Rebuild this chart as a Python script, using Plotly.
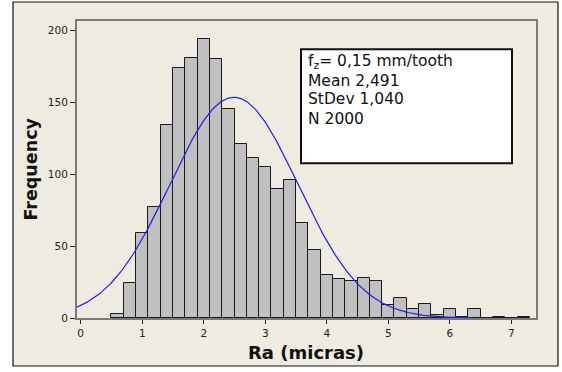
import numpy as np
import plotly.graph_objects as go

# ---- data ----
bin_centers = [0.6, 0.8, 1.0, 1.2, 1.4, 1.6, 1.8, 2.0, 2.2, 2.4, 2.6, 2.8, 3.0,
               3.2, 3.4, 3.6, 3.8, 4.0, 4.2, 4.4, 4.6, 4.8, 5.0, 5.2, 5.4, 5.6,
               5.8, 6.0, 6.2, 6.4, 6.6, 6.8, 7.0, 7.2]
frequency = [3, 24, 59, 77, 134, 174, 181, 194, 180, 145, 121, 111, 105,
             90, 96, 66, 47, 30, 27, 26, 28, 26, 9, 14, 6, 10,
             2, 6, 1, 6, 0, 1, 0, 1]
bin_width = 0.2
fit_mean = 2.491
fit_stdev = 1.040
fit_n = 2000
fit_x_start, fit_x_end = -0.06, 6.37
x_ticks = [0, 1, 2, 3, 4, 5, 6, 7]
y_ticks = [0, 50, 100, 150, 200]
info_lines = ["f<sub>z</sub>= 0,15 mm/tooth", "Mean 2,491", "StDev 1,040", "N 2000"]
x_title = "Ra (micras)"
y_title = "Frequency"

# fitted normal curve (scaled to counts) from the stated parameters
cx = np.linspace(fit_x_start, fit_x_end, 300)
cy = fit_n * bin_width / (fit_stdev * np.sqrt(2 * np.pi)) * np.exp(-0.5 * ((cx - fit_mean) / fit_stdev) ** 2)

fig = go.Figure()
fig.add_trace(go.Bar(
    x=bin_centers, y=frequency, width=bin_width,
    marker=dict(color="#C0C0C0", line=dict(color="#1a1a1a", width=1)),
    showlegend=False,
))
fig.add_trace(go.Scatter(
    x=cx, y=cy, mode="lines",
    line=dict(color="#1f1fe6", width=1.2),
    showlegend=False,
))

W, H = 562, 372
ml, mr, mt, mb = 77, 26, 21, 54
pw, ph = W - ml - mr, H - mt - mb

def px(x):
    return (x - ml) / pw

def py(y):
    return (H - mb - y) / ph

tickfont = dict(family="DejaVu Sans", size=10.5, color="#222222")
fig.update_layout(
    width=W, height=H,
    margin=dict(l=ml, r=mr, t=mt, b=mb),
    paper_bgcolor="white",
    plot_bgcolor="white",
    bargap=0,
    xaxis=dict(range=[-0.06, 7.40], tickmode="array", tickvals=x_ticks,
               ticks="outside", ticklen=4, tickcolor="#222222", tickwidth=1,
               showline=True, mirror=True, linecolor="#7a7a7a", linewidth=2,
               showgrid=False, zeroline=False, tickfont=tickfont),
    yaxis=dict(range=[0, 206.5], tickmode="array", tickvals=y_ticks,
               ticks="outside", ticklen=5, tickcolor="#222222", tickwidth=1,
               showline=True, mirror=True, linecolor="#7a7a7a", linewidth=2,
               showgrid=False, zeroline=False, tickfont=tickfont),
    shapes=[
        dict(type="rect", xref="paper", yref="paper", layer="below",
             x0=px(13), x1=px(558), y0=py(366), y1=py(2),
             fillcolor="#EFEBE0", line=dict(color="#111111", width=1.2)),
        dict(type="rect", xref="paper", yref="paper", layer="above",
             x0=px(301), x1=px(512), y0=py(163.3), y1=py(49.3),
             fillcolor="white", line=dict(color="#111111", width=2)),
    ],
)

anns = []
line_y = [61.7, 80.7, 99.5, 118.5]
for t, yy in zip(info_lines, line_y):
    anns.append(dict(text=t, xref="paper", yref="paper", x=px(306), y=py(yy),
                     xanchor="left", yanchor="middle", showarrow=False,
                     font=dict(family="DejaVu Sans", size=15.5, color="#111111")))
anns.append(dict(text="<b>" + x_title + "</b>", xref="paper", yref="paper",
                 x=px(306), y=py(352), xanchor="center", yanchor="middle",
                 showarrow=False,
                 font=dict(family="DejaVu Sans", size=18, color="#111111")))
anns.append(dict(text="<b>" + y_title + "</b>", xref="paper", yref="paper",
                 x=px(30), y=py(169.5), xanchor="center", yanchor="middle",
                 textangle=-90, showarrow=False,
                 font=dict(family="DejaVu Sans", size=17.5, color="#111111")))
fig.update_layout(annotations=anns)

fig.write_html("out.html")
